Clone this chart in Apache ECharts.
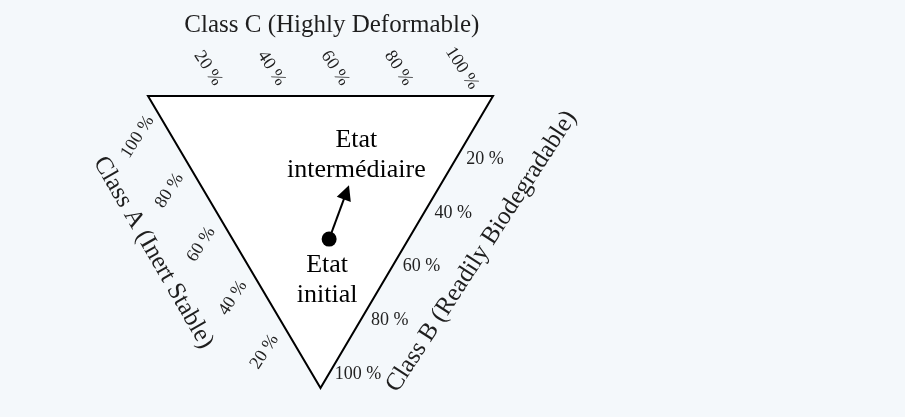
<!DOCTYPE html>
<html>
<head>
<meta charset="utf-8">
<script src="https://cdn.jsdelivr.net/npm/echarts@6/dist/echarts.min.js"></script>
<style>
html, body { margin: 0; padding: 0; background: #f4f8fb; }
#chart { width: 905px; height: 417px; }
</style>
</head>
<body>
<div id="chart"></div>
<script>
// classes on the three edges
const classNames = ['Class A (Inert Stable)', 'Class B (Readily Biodegradable)', 'Class C (Highly Deformable)']
const tickValues = [20, 40, 60, 80, 100]
const tickLabels = ['20 %', '40 %', '60 %', '80 %', '100 %']
// etats (composition in % of A / B / C)
const stateNames = ['Etat\ninitial', 'Etat\nintermédiaire']
const stateA = [23, 26]
const stateB = [49, 33]
const stateC = [28, 41]

// where the triangle sits in the 905x417 picture
const W = 905
const H = 417
const tri = { left: 148, top: 96, width: 345, height: 292 }
const font = '"Liberation Serif", "Times New Roman", serif'

// ternary (a, b, c) -> grid x/y ; A top-left, C top-right, B bottom
function tern (a, b, c) {
  return [c + b / 2, b]
}
// labels are spread a bit tighter than the edge
function along (v) { return 0.92 * v / 100 - 0.01 }
// f = fraction on the edge, d = push outwards
function topPt (f, d) { return tern(1 - f + d / 2, -d, f + d / 2) }
function rightPt (f, d) { return tern(-d, f + d / 2, 1 - f + d / 2) }
function leftPt (f, d) { return tern(f + d / 2, 1 - f + d / 2, -d) }

const tickData = []
tickValues.forEach((v, i) => {
  tickData.push({ name: tickLabels[i], value: topPt(along(v), 0.095), label: { rotate: -57 } })
  tickData.push({ name: tickLabels[i], value: rightPt(along(v), 0.085), label: { rotate: 0 } })
  tickData.push({ name: tickLabels[i], value: leftPt(along(v), 0.10), label: { rotate: 57 } })
})

const classData = [
  { name: classNames[0], value: leftPt(0.59, 0.253), label: { rotate: -60 } },
  { name: classNames[1], value: rightPt(0.416, 0.233), label: { rotate: 57 } },
  { name: classNames[2], value: topPt(0.533, 0.243), label: { rotate: 0 } }
]

const states = stateNames.map((n, i) => tern(stateA[i] / 100, stateB[i] / 100, stateC[i] / 100))

const myChart = echarts.init(document.getElementById('chart'))
myChart.setOption({
  animation: false,
  backgroundColor: '#f4f8fb',
  grid: { left: 0, right: 0, top: 0, bottom: 0 },
  xAxis: {
    type: 'value',
    show: false,
    min: -tri.left / tri.width,
    max: (W - tri.left) / tri.width
  },
  yAxis: {
    type: 'value',
    show: false,
    inverse: true,
    min: -tri.top / tri.height,
    max: (H - tri.top) / tri.height
  },
  series: [
    {
      // le triangle
      type: 'custom',
      silent: true,
      data: [[0, 0]],
      renderItem: (params, api) => ({
        type: 'polygon',
        shape: { points: [tern(1, 0, 0), tern(0, 0, 1), tern(0, 1, 0)].map(p => api.coord(p)) },
        style: { fill: '#ffffff', stroke: '#000000', lineWidth: 2 }
      })
    },
    {
      // fleche initial -> intermediaire
      type: 'lines',
      coordinateSystem: 'cartesian2d',
      silent: true,
      symbol: ['none', 'triangle'],
      symbolSize: 15,
      lineStyle: { color: '#000', width: 2, opacity: 1, curveness: 0 },
      data: [{ coords: [states[0], states[1]] }]
    },
    {
      type: 'scatter',
      silent: true,
      itemStyle: { color: '#000', opacity: 1 },
      data: [
        {
          name: stateNames[0],
          value: states[0],
          symbolSize: 15,
          label: { position: 'bottom', distance: 4, offset: [-2, 0] }
        },
        {
          name: stateNames[1],
          value: states[1],
          symbolSize: 0,
          label: { position: 'top', distance: 7, offset: [10, 0] }
        }
      ],
      label: {
        show: true,
        formatter: '{b}',
        fontFamily: font,
        fontSize: 26,
        lineHeight: 30,
        color: '#000',
        opacity: 1
      }
    },
    {
      // graduations
      type: 'scatter',
      silent: true,
      symbolSize: 0,
      data: tickData,
      label: {
        show: true,
        position: 'inside',
        formatter: '{b}',
        fontFamily: font,
        fontSize: 18,
        color: '#222',
        opacity: 1
      }
    },
    {
      // noms des classes
      type: 'scatter',
      silent: true,
      symbolSize: 0,
      data: classData,
      label: {
        show: true,
        position: 'inside',
        formatter: '{b}',
        fontFamily: font,
        fontSize: 25,
        color: '#1e1e1e',
        opacity: 1
      }
    }
  ]
})
</script>
</body>
</html>
